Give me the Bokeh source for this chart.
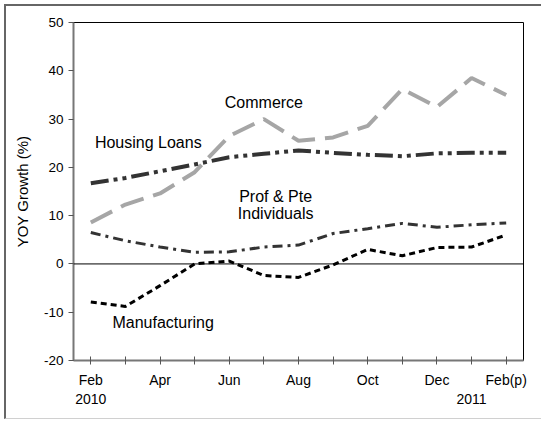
from bokeh.plotting import figure
from bokeh.models import FixedTicker, Span, Label, Range1d
from bokeh.embed import file_html
from bokeh.resources import INLINE

# ---- data ----
months = list(range(13))
tick_labels = ["Feb\n2010", "", "Apr", "", "Jun", "", "Aug", "", "Oct", "", "Dec", "\n2011", "Feb(p)"]
commerce = [8.6, 12.3, 14.6, 19.0, 26.5, 30.0, 25.5, 26.2, 28.6, 36.2, 32.5, 38.5, 35.0]
housing = [16.7, 17.8, 19.2, 20.6, 22.1, 22.8, 23.5, 23.0, 22.6, 22.3, 22.9, 23.0, 23.0]
prof = [6.5, 4.8, 3.5, 2.4, 2.5, 3.5, 3.9, 6.3, 7.3, 8.4, 7.6, 8.1, 8.5]
manuf = [-7.9, -8.8, -4.5, 0.0, 0.6, -2.4, -2.8, -0.2, 3.0, 1.7, 3.4, 3.5, 6.0]
y_ticks = [-20, -10, 0, 10, 20, 30, 40, 50]
y_tick_labels = ["-20", "-10", "0", "10", "20", "30", "40", "50"]

FONT = "Liberation Sans"

p = figure(width=537, height=415, output_backend="svg", toolbar_location=None,
           x_range=Range1d(-0.5, 12.5), y_range=Range1d(-20, 50),
           min_border_left=67, min_border_top=16, min_border_right=20, min_border_bottom=61)
p.styles = {"margin-left": "4px", "margin-top": "4px",
            "border-top": "2px solid #666666", "border-left": "2px solid #666666",
            "border-bottom": "1px solid #d0d0d0"}
p.background_fill_color = "white"
p.border_fill_color = "white"
p.outline_line_color = "black"
p.outline_line_width = 1
p.grid.visible = False

# axes
p.xaxis.ticker = FixedTicker(ticks=months)
p.xaxis.major_label_overrides = {i: t for i, t in zip(months, tick_labels)}
p.yaxis.ticker = FixedTicker(ticks=y_ticks)
p.yaxis.major_label_overrides = {v: t for v, t in zip(y_ticks, y_tick_labels)}
for ax in (p.xaxis, p.yaxis):
    ax.axis_line_color = "#777777"
    ax.axis_line_width = 2
    ax.major_tick_line_color = "#555555"
    ax.major_tick_line_width = 1
    ax.minor_tick_line_color = None
    ax.major_label_text_font = FONT
    ax.major_label_text_color = "black"
p.xaxis.major_label_text_font_size = "14px"
p.yaxis.major_label_text_font_size = "13.5px"
p.xaxis.major_tick_in = 4
p.xaxis.major_tick_out = 4
p.xaxis.major_label_standoff = 7
p.yaxis.major_tick_in = 0
p.yaxis.major_tick_out = 5
p.yaxis.major_label_standoff = 5
p.yaxis.axis_label = "YOY Growth (%)"
p.yaxis.axis_label_text_font = FONT
p.yaxis.axis_label_text_font_size = "15px"
p.yaxis.axis_label_text_font_style = "normal"
p.yaxis.axis_label_text_color = "black"
p.yaxis.axis_label_standoff = 10

p.add_layout(Span(location=0, dimension="width", line_color="black", line_width=1))

# series
p.line(months, commerce, line_color="#a6a6a6", line_width=4, line_dash="24 10")
p.line(months, housing, line_color="#333333", line_width=4, line_dash="18 5 4 5 4 5")
p.line(months, prof, line_color="#333333", line_width=3, line_dash="10 5 3 5")
p.line(months, manuf, line_color="black", line_width=3, line_dash="6 4")

# series labels
def lab(x, y, t):
    p.add_layout(Label(x=x, y=y, text=t, text_font=FONT, text_font_size="16px",
                       text_align="center", text_baseline="middle", text_color="black"))

lab(5.0, 33.4, "Commerce")
lab(1.66, 25.2, "Housing Loans")
lab(5.34, 13.9, "Prof & Pte")
lab(5.34, 10.5, "Individuals")
lab(2.09, -12.1, "Manufacturing")

open("out.html", "w").write(file_html(p, INLINE))
